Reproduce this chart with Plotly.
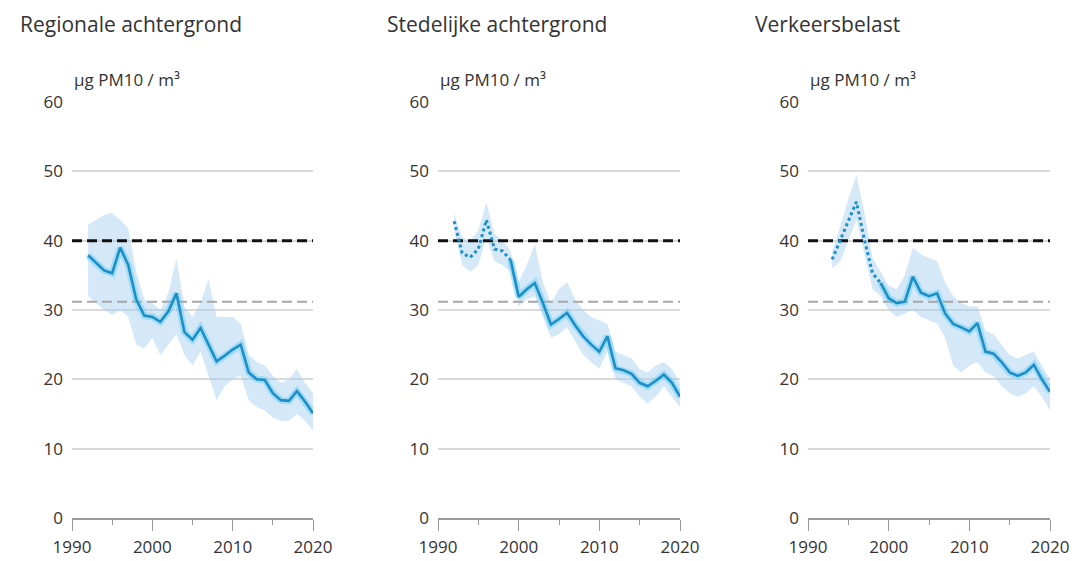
import plotly.graph_objects as go

W, H = 1074, 561

# ---------------- data ----------------
titles = ["Regionale achtergrond", "Stedelijke achtergrond", "Verkeersbelast"]
unit_label = "µg PM10 / m³"
y_ticks = [0, 10, 20, 30, 40, 50, 60]
x_ticks = [1990, 2000, 2010, 2020]
eu_limit = 40
dutch_ref = 31.2

# Panel 1: regional background
reg_years = list(range(1992, 2021))
reg_mean = [37.9, 36.8, 35.7, 35.3, 39.0, 36.5, 31.5, 29.2, 29.0, 28.3, 29.8, 32.4, 26.8, 25.7,
            27.4, 25.0, 22.6, 23.4, 24.3, 25.0, 21.0, 20.0, 19.9, 18.0, 17.0, 16.9, 18.3, 16.8, 15.1]
reg_upper = [42.3, 43.0, 43.7, 44.0, 43.0, 41.8, 35.5, 31.5, 31.0, 30.0, 32.5, 37.5, 30.5, 29.0,
             31.0, 34.5, 29.0, 29.0, 29.0, 28.0, 23.5, 22.5, 22.0, 20.5, 19.5, 20.0, 21.5, 19.5, 18.0]
reg_lower = [32.0, 31.0, 30.0, 29.3, 30.0, 29.0, 25.0, 24.5, 26.0, 23.5, 25.0, 26.5, 23.5, 22.0,
             24.0, 20.5, 17.0, 19.0, 20.0, 20.5, 17.0, 16.0, 15.5, 14.5, 14.0, 14.0, 15.0, 14.0, 12.7]

# Panel 2: urban background
urb_years_dot = list(range(1992, 2000))
urb_dot = [42.8, 38.2, 37.6, 38.8, 43.0, 38.8, 38.5, 37.2]
urb_years = list(range(1999, 2021))
urb_mean = [37.2, 31.9, 33.0, 33.9, 31.0, 27.9, 28.7, 29.6, 27.8, 26.2, 25.0, 24.0, 26.2, 21.6,
            21.3, 20.8, 19.5, 19.0, 19.8, 20.7, 19.5, 17.5]
urb_band_years = list(range(1992, 2021))
urb_upper = [44.0, 40.5, 40.0, 41.5, 45.5, 41.0, 40.0, 38.5, 34.0, 36.5, 39.5, 34.0, 31.0, 33.0,
             34.0, 31.5, 30.0, 29.0, 28.5, 28.0, 24.0, 23.5, 23.0, 21.5, 21.0, 22.0, 22.5, 21.5, 19.5]
urb_lower = [41.5, 36.5, 35.5, 36.5, 40.5, 37.0, 36.5, 35.5, 30.5, 31.5, 32.0, 29.0, 26.0, 26.5,
             27.5, 25.5, 23.5, 22.5, 21.5, 24.0, 20.0, 19.5, 19.0, 17.5, 16.5, 17.5, 19.0, 17.5, 16.0]

# Panel 3: traffic
trf_years_dot = list(range(1993, 2000))
trf_dot = [37.3, 40.0, 42.8, 45.6, 40.1, 35.3, 33.9]
trf_years = list(range(1999, 2021))
trf_mean = [33.9, 31.7, 31.0, 31.2, 34.8, 32.5, 32.0, 32.4, 29.5, 28.0, 27.5, 26.9, 28.1, 24.0,
            23.7, 22.5, 21.0, 20.5, 21.0, 22.1, 20.0, 18.2]
trf_band_years = list(range(1993, 2021))
trf_upper = [38.5, 42.0, 46.0, 49.5, 44.0, 37.5, 35.5, 33.5, 33.0, 35.0, 39.0, 38.0, 37.5, 37.0,
             34.0, 32.0, 31.0, 30.5, 30.5, 27.0, 26.5, 25.0, 23.5, 23.0, 23.5, 24.0, 22.0, 20.0]
trf_lower = [36.0, 37.0, 40.0, 43.0, 38.0, 33.0, 32.0, 30.0, 29.0, 29.5, 30.0, 29.0, 28.5, 28.0,
             26.0, 22.0, 21.0, 22.0, 22.5, 21.0, 20.5, 19.0, 18.0, 17.5, 18.0, 19.0, 17.5, 15.5]

panels = [
    dict(band_x=reg_years, up=reg_upper, lo=reg_lower, dot_x=None, dot_y=None, x=reg_years, y=reg_mean),
    dict(band_x=urb_band_years, up=urb_upper, lo=urb_lower, dot_x=urb_years_dot, dot_y=urb_dot, x=urb_years, y=urb_mean),
    dict(band_x=trf_band_years, up=trf_upper, lo=trf_lower, dot_x=trf_years_dot, dot_y=trf_dot, x=trf_years, y=trf_mean),
]

# ---------------- layout geometry (pixels) ----------------
x_px = [(72, 313), (438, 680), (808, 1050)]
title_px = [18, 385, 753]
y_bottom_px, y_top_px = 518, 102

BAND = "rgba(160,205,240,0.45)"
LINE = "#1b8fc6"
GLOW = "rgba(100,205,245,0.45)"
FONT = "Open Sans"

fig = go.Figure()

for i, p in enumerate(panels):
    xa = "x" if i == 0 else f"x{i+1}"
    ya = "y" if i == 0 else f"y{i+1}"
    fig.add_trace(go.Scatter(x=p["band_x"], y=p["up"], mode="lines", line=dict(width=0, color=BAND),
                             xaxis=xa, yaxis=ya, showlegend=False, hoverinfo="skip"))
    fig.add_trace(go.Scatter(x=p["band_x"], y=p["lo"], mode="lines", line=dict(width=0, color=BAND),
                             fill="tonexty", fillcolor=BAND,
                             xaxis=xa, yaxis=ya, showlegend=False, hoverinfo="skip"))
    fig.add_trace(go.Scatter(x=[1990, 2020], y=[dutch_ref, dutch_ref], mode="lines",
                             line=dict(color="#a6a6a6", width=2, dash="10px,5px"),
                             xaxis=xa, yaxis=ya, showlegend=False, hoverinfo="skip"))
    fig.add_trace(go.Scatter(x=[1990, 2020], y=[eu_limit, eu_limit], mode="lines",
                             line=dict(color="#111111", width=3, dash="10px,5px"),
                             xaxis=xa, yaxis=ya, showlegend=False, hoverinfo="skip"))
    if p["dot_x"] is not None:
        fig.add_trace(go.Scatter(x=p["dot_x"], y=p["dot_y"], mode="lines",
                                 line=dict(color=LINE, width=3, dash="dot"),
                                 xaxis=xa, yaxis=ya, showlegend=False, hoverinfo="skip"))
    fig.add_trace(go.Scatter(x=p["x"], y=p["y"], mode="lines", line=dict(color=GLOW, width=7),
                             xaxis=xa, yaxis=ya, showlegend=False, hoverinfo="skip"))
    fig.add_trace(go.Scatter(x=p["x"], y=p["y"], mode="lines", line=dict(color=LINE, width=2.6),
                             xaxis=xa, yaxis=ya, showlegend=False, hoverinfo="skip"))

y_dom = [(H - y_bottom_px) / H, (H - y_top_px) / H]
layout = dict(
    width=W, height=H, margin=dict(l=0, r=0, t=0, b=0),
    paper_bgcolor="white", plot_bgcolor="white",
    font=dict(family=FONT, color="#333333"),
    showlegend=False,
)
for i in range(3):
    sx = "xaxis" if i == 0 else f"xaxis{i+1}"
    sy = "yaxis" if i == 0 else f"yaxis{i+1}"
    anchor_y = "y" if i == 0 else f"y{i+1}"
    anchor_x = "x" if i == 0 else f"x{i+1}"
    layout[sx] = dict(
        domain=[x_px[i][0] / W, x_px[i][1] / W], anchor=anchor_y,
        range=[1990, 2020], tickvals=x_ticks, ticktext=[str(v) for v in x_ticks],
        showgrid=False, zeroline=False, showline=True, linecolor="#9a9a9a", linewidth=1.5,
        ticks="outside", ticklen=11, tickwidth=1.3, tickcolor="#9a9a9a",
        minor=dict(dtick=5, tick0=1990, ticks="outside", ticklen=5, tickwidth=1.3, tickcolor="#9a9a9a", showgrid=False),
        tickfont=dict(size=17, color="#333333"), ticklabelstandoff=2,
        fixedrange=True, automargin=False,
    )
    layout[sy] = dict(
        domain=y_dom, anchor=anchor_x,
        range=[0, 60], tickvals=y_ticks, ticktext=[str(v) for v in y_ticks],
        showgrid=True, gridcolor="#dadada", gridwidth=1.5, zeroline=False, showline=False,
        ticks="", tickfont=dict(size=17, color="#333333"), ticklabelstandoff=8,
        fixedrange=True, automargin=False,
    )

annotations = []
for i in range(3):
    annotations.append(dict(text=titles[i], x=title_px[i] / W, y=1 - 24 / H, xref="paper", yref="paper",
                            xanchor="left", yanchor="middle", showarrow=False,
                            font=dict(size=21, color="#333333", family=FONT)))
    annotations.append(dict(text=unit_label, x=x_px[i][0] / W, y=1 - 80 / H, xref="paper", yref="paper",
                            xanchor="left", yanchor="middle", showarrow=False,
                            font=dict(size=17, color="#333333", family=FONT)))
layout["annotations"] = annotations

fig.update_layout(**layout)
fig.write_html("out.html")
